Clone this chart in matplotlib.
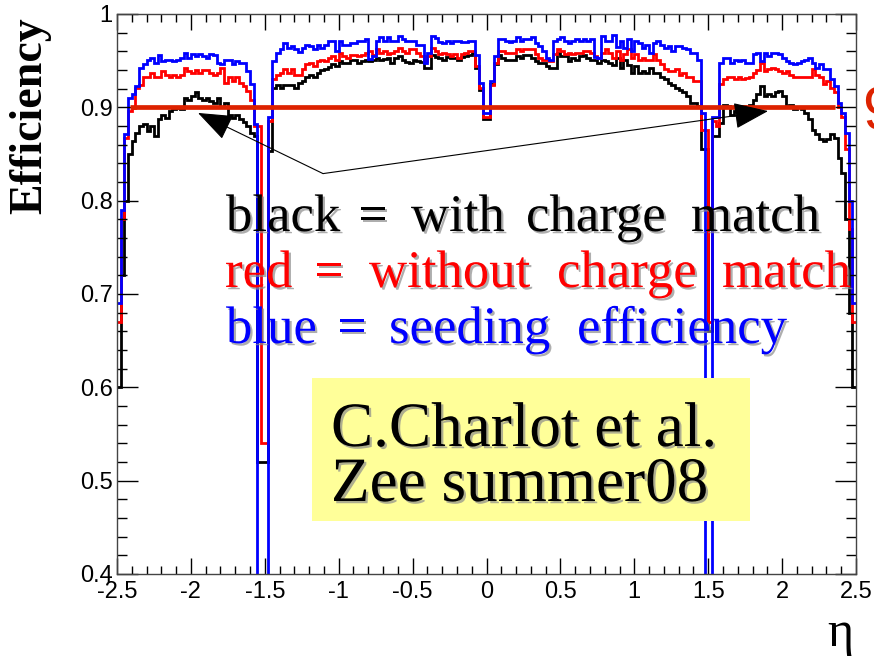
import numpy as np
import matplotlib
matplotlib.use("Agg")
import matplotlib.pyplot as plt
import matplotlib.patheffects as pe
from matplotlib.patches import Rectangle, FancyArrowPatch
from matplotlib.ticker import MultipleLocator, FixedLocator, FixedFormatter

# ---------------- data ----------------
eta_min, eta_max, n_bins = -2.5, 2.5, 200

eff_blue = [
    0.690, 0.790, 0.871, 0.910, 0.914, 0.923, 0.942, 0.946, 0.951, 0.953,
    0.948, 0.956, 0.950, 0.951, 0.951, 0.950, 0.951, 0.953, 0.958, 0.953,
    0.957, 0.955, 0.957, 0.955, 0.953, 0.957, 0.956, 0.948, 0.946, 0.951,
    0.951, 0.946, 0.950, 0.948, 0.948, 0.939, 0.925, 0.882, 0.000, 0.000,
    0.000, 0.890, 0.950, 0.958, 0.963, 0.969, 0.964, 0.966, 0.962, 0.959,
    0.964, 0.967, 0.966, 0.962, 0.967, 0.964, 0.967, 0.971, 0.971, 0.960,
    0.971, 0.967, 0.967, 0.969, 0.969, 0.971, 0.971, 0.973, 0.952, 0.955,
    0.971, 0.975, 0.971, 0.975, 0.971, 0.971, 0.976, 0.973, 0.971, 0.971,
    0.971, 0.967, 0.967, 0.948, 0.958, 0.976, 0.974, 0.970, 0.969, 0.971,
    0.969, 0.971, 0.971, 0.970, 0.970, 0.971, 0.971, 0.956, 0.926, 0.894,
    0.894, 0.928, 0.955, 0.973, 0.973, 0.971, 0.970, 0.971, 0.975, 0.971,
    0.973, 0.973, 0.975, 0.969, 0.966, 0.960, 0.953, 0.951, 0.971, 0.973,
    0.975, 0.971, 0.969, 0.971, 0.973, 0.971, 0.973, 0.971, 0.973, 0.954,
    0.953, 0.976, 0.971, 0.971, 0.978, 0.965, 0.971, 0.964, 0.973, 0.960,
    0.971, 0.969, 0.964, 0.967, 0.958, 0.969, 0.971, 0.967, 0.964, 0.966,
    0.960, 0.966, 0.966, 0.964, 0.962, 0.958, 0.958, 0.951, 0.894, 0.000,
    0.000, 0.890, 0.890, 0.948, 0.953, 0.953, 0.948, 0.951, 0.950, 0.951,
    0.948, 0.948, 0.957, 0.958, 0.950, 0.958, 0.955, 0.958, 0.958, 0.957,
    0.953, 0.950, 0.948, 0.946, 0.948, 0.950, 0.951, 0.953, 0.948, 0.942,
    0.946, 0.941, 0.941, 0.930, 0.923, 0.905, 0.894, 0.873, 0.800, 0.690,
]

eff_red = [
    0.670, 0.780, 0.867, 0.896, 0.899, 0.921, 0.924, 0.932, 0.933, 0.937,
    0.932, 0.933, 0.939, 0.935, 0.933, 0.935, 0.932, 0.935, 0.942, 0.939,
    0.937, 0.940, 0.937, 0.940, 0.940, 0.937, 0.935, 0.937, 0.942, 0.926,
    0.933, 0.928, 0.932, 0.926, 0.923, 0.918, 0.908, 0.880, 0.880, 0.540,
    0.540, 0.885, 0.930, 0.935, 0.937, 0.941, 0.937, 0.941, 0.935, 0.935,
    0.941, 0.946, 0.948, 0.944, 0.950, 0.951, 0.950, 0.953, 0.955, 0.951,
    0.958, 0.955, 0.953, 0.956, 0.956, 0.955, 0.956, 0.958, 0.960, 0.956,
    0.962, 0.958, 0.960, 0.957, 0.958, 0.960, 0.964, 0.960, 0.958, 0.962,
    0.962, 0.958, 0.955, 0.950, 0.955, 0.964, 0.960, 0.957, 0.958, 0.957,
    0.955, 0.957, 0.953, 0.957, 0.958, 0.960, 0.960, 0.944, 0.921, 0.890,
    0.890, 0.924, 0.948, 0.960, 0.960, 0.958, 0.958, 0.958, 0.962, 0.960,
    0.962, 0.962, 0.962, 0.957, 0.953, 0.951, 0.951, 0.950, 0.957, 0.962,
    0.960, 0.957, 0.958, 0.957, 0.958, 0.958, 0.960, 0.960, 0.958, 0.955,
    0.953, 0.958, 0.962, 0.958, 0.953, 0.960, 0.951, 0.957, 0.962, 0.953,
    0.957, 0.951, 0.953, 0.951, 0.951, 0.957, 0.951, 0.946, 0.941, 0.939,
    0.939, 0.941, 0.935, 0.937, 0.933, 0.932, 0.928, 0.928, 0.876, 0.876,
    0.670, 0.885, 0.880, 0.925, 0.930, 0.932, 0.932, 0.930, 0.932, 0.930,
    0.931, 0.932, 0.937, 0.940, 0.948, 0.939, 0.941, 0.942, 0.941, 0.939,
    0.937, 0.939, 0.935, 0.933, 0.933, 0.932, 0.933, 0.933, 0.941, 0.935,
    0.932, 0.925, 0.928, 0.921, 0.916, 0.900, 0.890, 0.855, 0.770, 0.670,
]

eff_black = [
    0.600, 0.720, 0.800, 0.850, 0.864, 0.873, 0.880, 0.882, 0.875, 0.880,
    0.869, 0.887, 0.892, 0.889, 0.896, 0.898, 0.899, 0.898, 0.910, 0.908,
    0.912, 0.916, 0.910, 0.908, 0.910, 0.907, 0.905, 0.910, 0.900, 0.905,
    0.892, 0.889, 0.892, 0.887, 0.884, 0.880, 0.873, 0.869, 0.520, 0.520,
    0.520, 0.853, 0.921, 0.924, 0.921, 0.924, 0.924, 0.924, 0.921, 0.926,
    0.928, 0.932, 0.935, 0.933, 0.937, 0.940, 0.941, 0.943, 0.946, 0.944,
    0.950, 0.948, 0.948, 0.951, 0.951, 0.948, 0.950, 0.951, 0.950, 0.951,
    0.953, 0.951, 0.952, 0.953, 0.948, 0.953, 0.955, 0.951, 0.949, 0.948,
    0.951, 0.950, 0.949, 0.942, 0.942, 0.956, 0.954, 0.953, 0.951, 0.954,
    0.953, 0.953, 0.951, 0.954, 0.955, 0.956, 0.958, 0.942, 0.919, 0.887,
    0.887, 0.925, 0.946, 0.956, 0.953, 0.951, 0.951, 0.951, 0.955, 0.953,
    0.956, 0.956, 0.953, 0.950, 0.948, 0.947, 0.944, 0.942, 0.942, 0.958,
    0.955, 0.955, 0.950, 0.953, 0.951, 0.955, 0.956, 0.953, 0.951, 0.951,
    0.948, 0.951, 0.950, 0.948, 0.945, 0.953, 0.942, 0.951, 0.945, 0.937,
    0.944, 0.937, 0.939, 0.937, 0.942, 0.937, 0.937, 0.933, 0.930, 0.926,
    0.924, 0.921, 0.919, 0.916, 0.912, 0.905, 0.905, 0.901, 0.855, 0.855,
    0.660, 0.869, 0.869, 0.883, 0.903, 0.901, 0.892, 0.896, 0.900, 0.901,
    0.900, 0.903, 0.908, 0.914, 0.923, 0.912, 0.914, 0.912, 0.916, 0.917,
    0.912, 0.901, 0.903, 0.898, 0.900, 0.898, 0.894, 0.887, 0.876, 0.871,
    0.866, 0.864, 0.866, 0.871, 0.867, 0.846, 0.830, 0.780, 0.680, 0.600,
]

x_ticks = [-2.5, -2.0, -1.5, -1.0, -0.5, 0.0, 0.5, 1.0, 1.5, 2.0, 2.5]
x_tick_labels = ["-2.5", "-2", "-1.5", "-1", "-0.5", "0", "0.5", "1", "1.5", "2", "2.5"]
y_ticks = [0.4, 0.5, 0.6, 0.7, 0.8, 0.9, 1.0]
y_tick_labels = ["0.4", "0.5", "0.6", "0.7", "0.8", "0.9", "1"]

target_eff = 0.9
target_eta_range = (-2.41, 2.36)
arrow_origin = (-1.106, 0.829)
arrow_tips = [(-1.952, 0.894), (1.905, 0.896)]

legend_words = [["black", "=", "with", "charge", "match"],
                ["red", "=", "without", "charge", "match"],
                ["blue", "=", "seeding", "efficiency"]]
legend_colors = ["black", "#ff0000", "#0000ff"]
credit_lines = ["C.Charlot et al.", "Zee summer08"]

# ---------------- figure ----------------
W, H = 874, 656
fig = plt.figure(figsize=(W / 100, H / 100), dpi=100)
fig.patch.set_facecolor("white")

def fx(px):
    return px / W

def fy(py):
    return 1 - py / H

ax = fig.add_axes([fx(117), fy(574), fx(856) - fx(117), fy(14) - fy(574)])
edges = np.linspace(eta_min, eta_max, n_bins + 1)

for vals, col in [(eff_black, "black"), (eff_red, "#ff0000"), (eff_blue, "#0000ff")]:
    ax.stairs(vals, edges, baseline=None, color=col, lw=2.0)

ax.plot(target_eta_range, [target_eff, target_eff], color="#dd2200", lw=3.4,
        solid_capstyle="butt", zorder=5)

for tip in arrow_tips:
    arr = FancyArrowPatch(posA=arrow_origin, posB=tip,
                          arrowstyle="-|>,head_length=1.1,head_width=0.42",
                          mutation_scale=20, color="black", lw=0.8,
                          shrinkA=0, shrinkB=0, zorder=6)
    ax.add_patch(arr)

ax.set_xlim(eta_min, eta_max)
ax.set_ylim(0.4, 1.0)
ax.xaxis.set_major_locator(FixedLocator(x_ticks))
ax.xaxis.set_major_formatter(FixedFormatter(x_tick_labels))
ax.xaxis.set_minor_locator(MultipleLocator(0.1))
ax.yaxis.set_major_locator(FixedLocator(y_ticks))
ax.yaxis.set_major_formatter(FixedFormatter(y_tick_labels))
ax.yaxis.set_minor_locator(MultipleLocator(0.02))

ax.tick_params(axis="both", which="both", direction="in", top=True, right=True,
               width=1.0, colors="black")
ax.tick_params(axis="x", which="major", length=11.5, pad=5)
ax.tick_params(axis="x", which="minor", length=5.8)
ax.tick_params(axis="y", which="major", length=15, pad=3)
ax.tick_params(axis="y", which="minor", length=7.5)
for lab in ax.get_xticklabels() + ax.get_yticklabels():
    lab.set_fontfamily("Liberation Sans")
    lab.set_fontsize(17)
for sp in ax.spines.values():
    sp.set_linewidth(1.0)
    sp.set_color("#444444")

# axis titles
fig.text(fx(30), fy(116), "Efficiency", rotation=90, ha="center", va="center",
         fontsize=33, fontweight="bold", family="Liberation Serif")
fig.text(fx(840), fy(634), "η", ha="center", va="center", fontsize=36,
         family="Liberation Serif")

shadow = [pe.SimplePatchShadow(offset=(1.6, -1.6), shadow_rgbFace="0.55", alpha=0.7),
          pe.Normal()]

# legend-like text, word by word (wide word spacing as in the slide)
word_x = [[226, 358, 411, 526, 691],
          [225, 314, 369, 557, 722],
          [226, 337, 389, 577]]
for i, (words, col) in enumerate(zip(legend_words, legend_colors)):
    for w, xp in zip(words, word_x[i]):
        fig.text(fx(xp), fy(231 + 56 * i), w, color=col, fontsize=38,
                 family="Liberation Serif", ha="left", va="baseline",
                 path_effects=shadow)

# yellow credit box
fig.patches.append(Rectangle((fx(312), fy(521)), fx(750) - fx(312), fy(378) - fy(521),
                             transform=fig.transFigure, facecolor="#ffff99",
                             edgecolor="none", zorder=1))
for i, txt in enumerate(credit_lines):
    fig.text(fx(331), fy(446 + 55 * i), txt, color="black", fontsize=45.5,
             family="Liberation Serif", ha="left", va="baseline",
             path_effects=shadow, zorder=3)

# cut-off target label on right edge
fig.text(fx(862), fy(130), "90%", color="#dd2200", fontsize=44,
         family="Liberation Sans", ha="left", va="baseline")

fig.savefig("out.png", dpi=100)
